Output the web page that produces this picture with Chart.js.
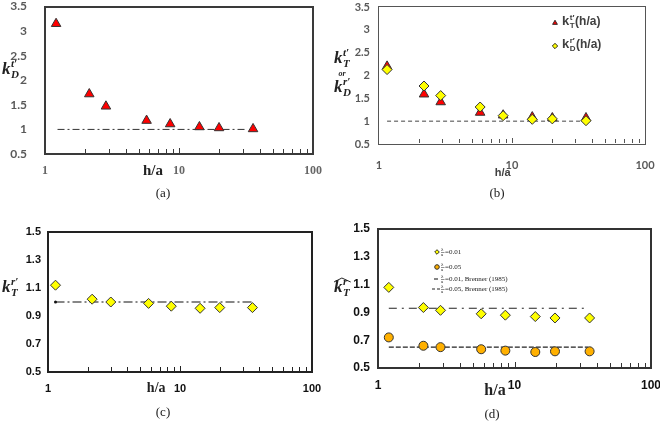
<!DOCTYPE html>
<html><head><meta charset="utf-8">
<script src="https://cdn.jsdelivr.net/npm/chart.js@4/dist/chart.umd.min.js"></script>
<style>
html,body{margin:0;padding:0;background:#fff;width:660px;height:422px;overflow:hidden;}
.panel{position:absolute;}
.frame{position:absolute;box-sizing:border-box;pointer-events:none;border-style:solid;}
.cap{position:absolute;font-family:'Liberation Serif',serif;font-size:13px;color:#222;transform:translate(-50%,-50%);white-space:nowrap;}
</style></head><body>
<div class="panel" style="left:0;top:0;width:330px;height:190px"><canvas id="ca"></canvas><div class="frame" id="fa"></div></div>
<div class="panel" style="left:330px;top:0;width:330px;height:190px"><canvas id="cb"></canvas><div class="frame" id="fb"></div></div>
<div class="panel" style="left:0;top:220px;width:330px;height:185px"><canvas id="cc"></canvas><div class="frame" id="fc"></div></div>
<div class="panel" style="left:330px;top:220px;width:330px;height:185px"><canvas id="cd"></canvas><div class="frame" id="fd"></div></div>
<div class="cap" style="left:163px;top:193px">(a)</div>
<div class="cap" style="left:497px;top:193px">(b)</div>
<div class="cap" style="left:163px;top:412px">(c)</div>
<div class="cap" style="left:492px;top:414px">(d)</div>
<script>
// ---------- data ----------
const hA = [1.21, 2.14, 2.85, 5.73, 8.59, 14.2, 19.9, 35.7];
const kDt_a = [3.15, 1.72, 1.47, 1.18, 1.11, 1.05, 1.03, 1.01];
const refA = 1.0;
const refA_x = [1.24, 31.5];

const hB = [1.15, 2.18, 2.91, 5.76, 8.58, 14.2, 20.1, 36.0];
const kTt_b = [2.2, 1.59, 1.42, 1.19, 1.13, 1.09, 1.07, 1.07];
const kDr_b = [2.13, 1.77, 1.56, 1.31, 1.12, 1.04, 1.05, 1.01];
const refB = 1.0;
const refB_x = [1.15, 38];

const hC = [1.14, 2.16, 2.99, 5.78, 8.59, 14.2, 20.0, 35.4];
const kTr_c = [1.12, 1.02, 1.00, 0.99, 0.97, 0.955, 0.96, 0.96];
const refC = 1.0;
const refC_x = [1.14, 36];

const hD = [1.20, 2.15, 2.87, 5.70, 8.57, 14.2, 19.8, 35.5];
const kT_001 = [1.08, 0.935, 0.915, 0.89, 0.88, 0.87, 0.86, 0.86];
const kT_005 = [0.72, 0.66, 0.65, 0.635, 0.625, 0.615, 0.62, 0.62];
const brenner001 = 0.93;
const brenner005 = 0.65;
const refD_x = [1.2, 34.5];

const xTicks = [1,2,3,4,5,6,7,8,9,10,20,30,40,50,60,70,80,90,100];
const xTickLabels = [1, 10, 100];
const yTicksAB = [0.5, 1, 1.5, 2, 2.5, 3, 3.5];
const yTicksCD = [0.5, 0.7, 0.9, 1.1, 1.3, 1.5];

// ---------- helpers ----------
const pts = (xs, ys) => xs.map((x, i) => ({x, y: ys[i]}));
const hline = (xr, y) => xr.map(x => ({x, y}));
const SERIF = "'Liberation Serif', serif";
const SANS = "'Liberation Sans', sans-serif";

function bounds(chart) {
  const sx = chart.scales.x, sy = chart.scales.y;
  return {
    L: Math.round(sx.getPixelForValue(1)), R: Math.round(sx.getPixelForValue(100)),
    T: Math.round(sy.getPixelForValue(sy.max)), B: Math.round(sy.getPixelForValue(sy.min))
  };
}
// plot frame: an overlay box placed on the chart area computed by the scales
function placeFrame(chart, frameId, color, width) {
  const {L, R, T, B} = bounds(chart);
  const el = document.getElementById(frameId);
  const h = width / 2;
  el.style.left = (L - h) + 'px'; el.style.top = (T - h) + 'px';
  el.style.width = (R - L + width) + 'px'; el.style.height = (B - T + width) + 'px';
  el.style.borderWidth = width + 'px'; el.style.borderColor = color;
}
function drawInTicks(chart, color, len) {
  const ctx = chart.ctx, sx = chart.scales.x; const {B} = bounds(chart);
  ctx.save(); ctx.fillStyle = color;
  sx.ticks.forEach(t => {
    if (t.value === 1 || t.value === 100) return;
    const px = Math.round(sx.getPixelForValue(t.value));
    const l = t.value === 10 ? len + 1 : len;
    ctx.fillRect(px, B - l - 1, 1, l);
  });
  ctx.restore();
}
function kLabel(ctx, x, y, size, sup, sub, color, family, style) {
  ctx.save(); ctx.fillStyle = color; ctx.textAlign = 'left'; ctx.textBaseline = 'alphabetic';
  ctx.font = `${style} ${size}px ${family}`;
  ctx.fillText('k', x, y);
  const w = ctx.measureText('k').width;
  const s = Math.round(size * 0.62);
  ctx.font = `${style} ${s}px ${family}`;
  ctx.fillText(sup, x + w + 0.5, y - size * 0.42);
  ctx.fillText(sub, x + w + 0.5, y + size * 0.22);
  const w2 = Math.max(ctx.measureText(sup).width, ctx.measureText(sub).width);
  ctx.restore();
  return x + w + 0.5 + w2;
}
function xTitle(chart, text, atValue, dy, font, color) {
  const ctx = chart.ctx; const {B} = bounds(chart);
  ctx.save(); ctx.font = font; ctx.fillStyle = color; ctx.textAlign = 'center'; ctx.textBaseline = 'middle';
  ctx.fillText(text, chart.scales.x.getPixelForValue(atValue), B + dy);
  ctx.restore();
}

function makeChart(id, o) {
  return new Chart(document.getElementById(id), {
    type: 'scatter',
    data: {datasets: o.datasets},
    options: {
      responsive: true, maintainAspectRatio: false, animation: false, devicePixelRatio: 1,
      layout: {padding: {left: 0, top: o.area.t, right: o.W - o.area.r, bottom: 0}},
      plugins: {legend: {display: false}, tooltip: {enabled: false}},
      scales: {
        x: {
          type: 'logarithmic', min: 1, max: 100, position: 'bottom',
          afterBuildTicks: s => { s.ticks = xTicks.map(v => ({value: v})); },
          afterFit: s => { s.height = o.H - o.area.b; s.paddingLeft = 0; s.paddingRight = 0; },
          grid: {display: false, drawTicks: false}, border: {display: false},
          ticks: {autoSkip: false, maxRotation: 0, minRotation: 0, padding: o.xPad, font: o.xFont, color: o.xColor,
                  callback: v => xTickLabels.includes(v) ? String(v) : ''}
        },
        y: {
          type: 'linear', min: o.yMin, max: o.yMax,
          afterBuildTicks: s => { s.ticks = o.yTicks.map(v => ({value: v})); },
          afterFit: s => { s.width = o.area.l; s.paddingTop = 0; s.paddingBottom = 0; },
          grid: {display: false, drawTicks: false}, border: {display: false},
          ticks: {padding: o.yPad, font: o.yFont, color: o.yColor, callback: v => String(v)}
        }
      }
    },
    plugins: [{id: 'deco', afterDraw(chart) {
      placeFrame(chart, o.frameId, o.frameColor, o.frameWidth);
      drawInTicks(chart, o.frameColor, 4);
      o.deco(chart);
    }}]
  });
}

const RED = '#ff0000', YEL = '#ffff00', ORG = '#ffb000', EDGE = '#333333';

// ---------- (a) ----------
makeChart('ca', {
  W: 330, H: 190, area: {l: 45, t: 6, r: 313, b: 154}, frameId: 'fa', frameColor: '#3a3a3a', frameWidth: 2,
  yMin: 0.5, yMax: 3.5, yTicks: yTicksAB, yPad: 18, xPad: 11,
  yFont: {family: 'Lato', size: 12, weight: 'bold', lineHeight: 1}, yColor: '#595959',
  xFont: {family: SERIF, size: 12, weight: 'bold', lineHeight: 1}, xColor: '#666',
  datasets: [
    {data: pts(hA, kDt_a), pointStyle: 'triangle', pointRadius: 5.5, backgroundColor: RED, borderColor: EDGE, borderWidth: 1, order: 0},
    {data: hline(refA_x, refA), showLine: true, pointRadius: 0, borderColor: '#333', borderWidth: 1, borderDash: [7, 3, 2, 3], order: 1}
  ],
  deco(chart) {
    kLabel(chart.ctx, 2, 74, 17, 't\u2032', 'D', '#222', SERIF, 'italic bold');
    xTitle(chart, 'h/a', 6.4, 17, `bold 15px ${SERIF}`, '#222');
  }
});

// ---------- (b) ----------
makeChart('cb', {
  W: 330, H: 190, area: {l: 49, t: 7, r: 315, b: 144}, frameId: 'fb', frameColor: '#555', frameWidth: 1.5,
  yMin: 0.5, yMax: 3.5, yTicks: yTicksAB, yPad: 9, xPad: 16,
  yFont: {family: 'Lato', size: 11, weight: 'bold', lineHeight: 1}, yColor: '#595959',
  xFont: {family: 'Lato', size: 11, weight: 'bold', lineHeight: 1}, xColor: '#595959',
  datasets: [
    {data: pts(hB, kDr_b), pointStyle: 'rectRot', pointRadius: 5, backgroundColor: YEL, borderColor: EDGE, borderWidth: 1, order: 0},
    {data: pts(hB, kTt_b), pointStyle: 'triangle', pointRadius: 5.5, backgroundColor: RED, borderColor: EDGE, borderWidth: 1, order: 1},
    {data: hline(refB_x, refB), showLine: true, pointRadius: 0, borderColor: '#444', borderWidth: 1, borderDash: [4, 3], order: 2}
  ],
  deco(chart) {
    const ctx = chart.ctx;
    kLabel(ctx, 4, 63, 17, 't\u2032', 'T', '#222', SERIF, 'italic bold');
    ctx.save(); ctx.font = `bold italic 8px ${SERIF}`; ctx.fillStyle = '#222'; ctx.textAlign = 'center';
    ctx.fillText('or', 12, 76); ctx.restore();
    kLabel(ctx, 4, 92, 17, 'r\u2032', 'D', '#222', SERIF, 'italic bold');
    xTitle(chart, 'h/a', 8.5, 29, `bold 11px ${SANS}`, '#404040');
    const lx = 225;
    const rows = [{y: 20, sup: 't\u2032', sub: 'T', style: 'triangle'}, {y: 43, sup: 'r\u2032', sub: 'D', style: 'rectRot'}];
    rows.forEach(r => {
      ctx.save(); ctx.strokeStyle = EDGE; ctx.lineWidth = 0.8;
      ctx.fillStyle = r.style === 'triangle' ? RED : YEL;
      Chart.helpers.drawPoint(ctx, {pointStyle: r.style, radius: 2.6, borderWidth: 0.8}, lx, r.y + 3);
      ctx.fill(); ctx.stroke(); ctx.restore();
      const ex = kLabel(ctx, lx + 7, r.y + 5, 13, r.sup, r.sub, '#404040', SANS, 'bold');
      ctx.save(); ctx.font = `bold 12px ${SANS}`; ctx.fillStyle = '#404040'; ctx.textBaseline = 'alphabetic';
      ctx.fillText('(h/a)', ex + 0.5, r.y + 5); ctx.restore();
    });
  }
});

// ---------- (c) ----------
makeChart('cc', {
  W: 330, H: 185, area: {l: 48, t: 12, r: 312, b: 152}, frameId: 'fc', frameColor: '#222', frameWidth: 2,
  yMin: 0.5, yMax: 1.5, yTicks: yTicksCD, yPad: 7, xPad: 11,
  yFont: {family: SANS, size: 11, weight: 'bold', lineHeight: 1}, yColor: '#111',
  xFont: {family: SANS, size: 11, weight: 'bold', lineHeight: 1}, xColor: '#111',
  datasets: [
    {data: pts(hC, kTr_c), pointStyle: 'rectRot', pointRadius: 5, backgroundColor: YEL, borderColor: EDGE, borderWidth: 1, order: 0},
    {data: hline(refC_x, refC), showLine: true, pointRadius: [1.5, 0], pointBackgroundColor: '#111', pointBorderWidth: 0,
     borderColor: '#111', borderWidth: 1.1, borderDash: [9, 3, 2, 3], order: 1}
  ],
  deco(chart) {
    kLabel(chart.ctx, 2, 72, 17, 'r\u2032', 'T', '#222', SERIF, 'italic bold');
    xTitle(chart, 'h/a', 6.6, 16, `bold 14px ${SERIF}`, '#222');
  }
});

// ---------- (d) ----------
makeChart('cd', {
  W: 330, H: 185, area: {l: 48, t: 9, r: 321, b: 148}, frameId: 'fd', frameColor: '#333', frameWidth: 2,
  yMin: 0.5, yMax: 1.5, yTicks: yTicksCD, yPad: 8, xPad: 12,
  yFont: {family: SANS, size: 12, weight: 'bold', lineHeight: 1}, yColor: '#111',
  xFont: {family: SANS, size: 12, weight: 'bold', lineHeight: 1}, xColor: '#111',
  datasets: [
    {data: pts(hD, kT_001), pointStyle: 'rectRot', pointRadius: 5, backgroundColor: YEL, borderColor: EDGE, borderWidth: 1, order: 0},
    {data: pts(hD, kT_005), pointStyle: 'circle', pointRadius: 4.5, backgroundColor: ORG, borderColor: EDGE, borderWidth: 1, order: 0},
    {data: hline(refD_x, brenner001), showLine: true, pointRadius: 0, borderColor: '#222', borderWidth: 1.1, borderDash: [8, 5, 2, 5], order: 2},
    {data: hline(refD_x, brenner005), showLine: true, pointRadius: 0, borderColor: '#222', borderWidth: 1.3, borderDash: [5, 2], order: 2}
  ],
  deco(chart) {
    const ctx = chart.ctx;
    const ex = kLabel(ctx, 4, 72, 17, 'r', 'T', '#222', SERIF, 'italic bold');
    ctx.save(); ctx.strokeStyle = '#222'; ctx.lineWidth = 1;
    ctx.beginPath(); ctx.moveTo(4, 62); ctx.lineTo((4 + ex) / 2, 58); ctx.lineTo(ex + 1, 62); ctx.stroke(); ctx.restore();
    xTitle(chart, 'h/a', 7.2, 23, `bold 16px ${SERIF}`, '#222');
    const lx = 107;
    const rows = [
      {y: 32, kind: 'rectRot', val: '=0.01'},
      {y: 47, kind: 'circle', val: '=0.05'},
      {y: 59, kind: 'dashdot', val: '=0.01, Brenner (1985)'},
      {y: 69, kind: 'dash', val: '=0.05, Brenner (1985)'}
    ];
    rows.forEach(r => {
      ctx.save();
      if (r.kind === 'rectRot' || r.kind === 'circle') {
        ctx.fillStyle = r.kind === 'circle' ? ORG : YEL; ctx.strokeStyle = EDGE; ctx.lineWidth = 0.8;
        Chart.helpers.drawPoint(ctx, {pointStyle: r.kind, radius: 2.2, borderWidth: 0.8}, lx, r.y);
        ctx.fill(); ctx.stroke();
      } else {
        ctx.strokeStyle = '#222'; ctx.lineWidth = 1.1;
        ctx.setLineDash(r.kind === 'dash' ? [3, 2] : [4, 10]);
        ctx.beginPath(); ctx.moveTo(r.kind === 'dash' ? lx - 5 : lx - 3, r.y); ctx.lineTo(lx + 3, r.y); ctx.stroke();
      }
      ctx.restore();
      ctx.save(); ctx.fillStyle = '#222'; ctx.textBaseline = 'middle';
      const tx = lx + 4;
      ctx.font = `5px ${SERIF}`;
      ctx.fillText('\u03bb', tx, r.y - 2.5);
      ctx.fillText('a', tx, r.y + 3);
      ctx.fillRect(tx, r.y, 3.5, 0.5);
      ctx.font = `7px ${SERIF}`;
      ctx.fillText(r.val, tx + 4, r.y + 0.5);
      ctx.restore();
    });
  }
});
</script>
</body></html>
